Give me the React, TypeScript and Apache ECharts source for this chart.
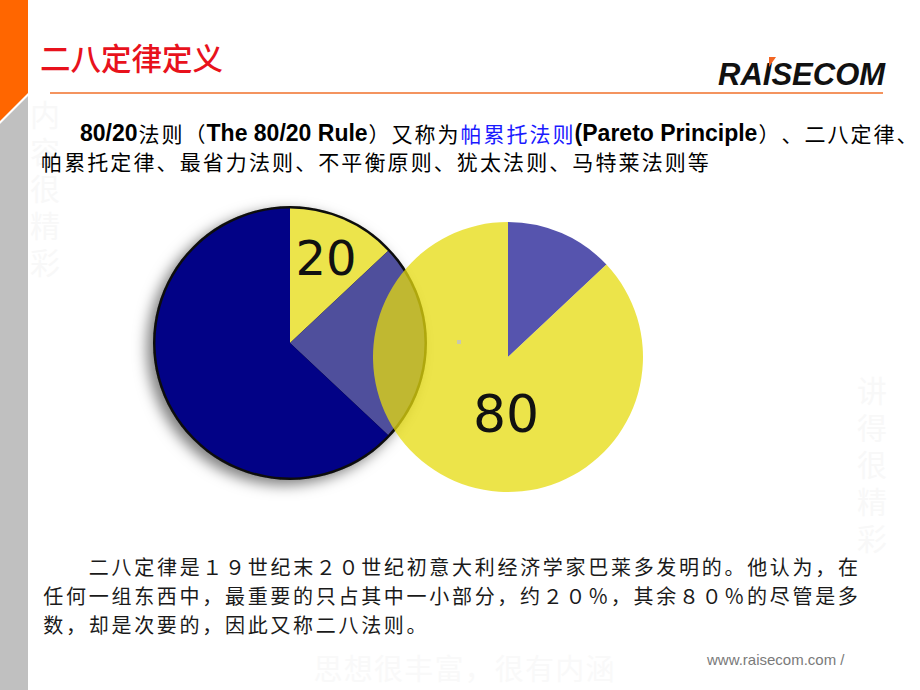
import React, { useEffect, useRef } from "react";
import * as echarts from "echarts";

// ---- data ----
const leftPieNames = ["关键少数", "过渡部分", "其余部分"];
const leftPieValues = [13, 24, 63];
const leftPieColors = ["#ece44b", "#4f4f9c", "#020286"];
const rightPieNames = ["少数", "多数"];
const rightPieValues = [13, 87];
const pieLabels = ["20", "80"];

const titleText = "二八定律定义";
const introLine1 = [
  { t: "80/20", k: "latin" },
  { t: "法则（", k: "cjk" },
  { t: "The 80/20 Rule", k: "latin" },
  { t: "）又称为", k: "cjk" },
  { t: "帕累托法则", k: "blue" },
  { t: "(Pareto Principle", k: "latin" },
  { t: "）、二八定律、", k: "cjk" },
];
const introLine2 = "帕累托定律、最省力法则、不平衡原则、犹太法则、马特莱法则等";
const bodyLines = [
  "二八定律是１９世纪末２０世纪初意大利经济学家巴莱多发明的。他认为，在",
  "任何一组东西中，最重要的只占其中一小部分，约２０％，其余８０％的尽管是多",
  "数，却是次要的，因此又称二八法则。",
];
const watermarkLeft = "内容很精彩";
const watermarkRight = "讲得很精彩";
const watermarkBottom = "思想很丰富，很有内涵";
const logoText = "RAISECOM";
const urlText = "www.raisecom.com /";

const CJK_FONT = "'Noto Sans CJK SC', 'Noto Sans', sans-serif";
const LATIN_FONT = "'Liberation Sans', Arial, sans-serif";

function measure(text: string, font: string): number {
  const c = document.createElement("canvas").getContext("2d")!;
  c.font = font;
  return c.measureText(text).width;
}

function charsAt(text: string, x0: number, y: number, pitch: number, size: number, fill: string, z = 10, weight = "normal") {
  const out: any[] = [];
  Array.from(text).forEach((ch, i) => {
    out.push({
      type: "text",
      z,
      silent: true,
      style: {
        text: ch,
        x: x0 + i * pitch + pitch / 2,
        y,
        fill,
        font: `${weight} ${size}px ${CJK_FONT}`,
        textAlign: "center",
        textVerticalAlign: "middle",
      },
    });
  });
  return out;
}

function verticalChars(text: string, x: number, y0: number, step: number, size: number, fill: string) {
  return Array.from(text).map((ch, i) => ({
    type: "text",
    z: 0,
    silent: true,
    style: {
      text: ch,
      x,
      y: y0 + i * step,
      fill,
      font: `normal ${size}px ${CJK_FONT}`,
      textAlign: "center",
      textVerticalAlign: "middle",
    },
  }));
}

export default function App() {
  const ref = useRef<HTMLDivElement>(null);
  useEffect(() => {
    if (!ref.current) return;
    const chart = echarts.init(ref.current, undefined, { renderer: "svg" });

    const graphics: any[] = [];
    // side bar
    graphics.push({
      type: "polygon", z: 0, silent: true,
      shape: { points: [[0, 0], [28, 0], [28, 93], [0, 121]] },
      style: { fill: "#ff6600" },
    });
    graphics.push({
      type: "polygon", z: 0, silent: true,
      shape: { points: [[0, 124], [28, 96], [28, 690], [0, 690]] },
      style: { fill: "#c0c0c0" },
    });
    // watermarks (very faint)
    graphics.push(...verticalChars(watermarkLeft, 45, 113, 37, 30, "#f8f8f8"));
    graphics.push(...verticalChars(watermarkRight, 872, 389, 37, 30, "#f8f8f8"));
    graphics.push(...charsAt(watermarkBottom, 313, 667, 30.2, 29, "#f9f9f9", 0));
    // title
    graphics.push({
      type: "text", z: 10, silent: true,
      style: {
        text: titleText, x: 40, y: 57,
        fill: "#e8121c",
        font: `500 30.5px ${CJK_FONT}`,
        textVerticalAlign: "middle",
        shadowColor: "rgba(0,0,0,0.4)", shadowBlur: 2, shadowOffsetX: 2, shadowOffsetY: 2,
      },
    });
    // orange rule
    graphics.push({
      type: "line", z: 5, silent: true,
      shape: { x1: 50, y1: 93, x2: 883, y2: 93 },
      style: { stroke: "#f0702a", lineWidth: 1.5 },
    });
    // logo
    graphics.push({
      type: "text", z: 10, silent: true,
      style: {
        text: logoText, x: 718, y: 74,
        fill: "#111",
        font: `italic 900 31px ${LATIN_FONT}`,
        textVerticalAlign: "middle",
      },
    });
    graphics.push({
      type: "polygon", z: 11, silent: true,
      shape: { points: [[769, 57], [776, 57], [769, 67]] },
      style: { fill: "#f26522" },
    });
    // intro line 1
    let x = 80;
    const y1 = 133;
    const latinFont = `bold 23px ${LATIN_FONT}`;
    introLine1.forEach((seg) => {
      if (seg.k === "latin") {
        graphics.push({
          type: "text", z: 10, silent: true,
          style: { text: seg.t, x, y: y1, fill: "#000", font: latinFont, textVerticalAlign: "middle" },
        });
        x += measure(seg.t, latinFont);
      } else {
        const fill = seg.k === "blue" ? "#1a1aff" : "#000";
        graphics.push(...charsAt(seg.t, x, y1, 23, 21, fill));
        x += Array.from(seg.t).length * 23;
      }
    });
    graphics.push(...charsAt(introLine2, 40, 161, 23.1, 21, "#000"));
    // body text
    graphics.push(...charsAt(bodyLines[0], 87.5, 566, 22.7, 20, "#1a1a1a"));
    graphics.push(...charsAt(bodyLines[1], 42, 595, 22.7, 20, "#1a1a1a"));
    graphics.push(...charsAt(bodyLines[2], 42, 624, 22.7, 20, "#1a1a1a"));
    // url
    graphics.push({
      type: "text", z: 10, silent: true,
      style: { text: urlText, x: 707, y: 659, fill: "#7a7a7a", font: `normal 15px ${LATIN_FONT}`, textVerticalAlign: "middle" },
    });
    // small dot
    graphics.push({
      type: "rect", z: 20, silent: true,
      shape: { x: 457, y: 340, width: 4, height: 4 },
      style: { fill: "#c8c8b0" },
    });
    // pie labels
    graphics.push({
      type: "text", z: 100, silent: true,
      style: {
        text: pieLabels[0], x: 326, y: 258, fill: "#111",
        font: `normal 48px 'DejaVu Sans', sans-serif`,
        textAlign: "center", textVerticalAlign: "middle",
      },
    });
    graphics.push({
      type: "text", z: 100, silent: true,
      style: {
        text: pieLabels[1], x: 506, y: 414, fill: "#111",
        font: `normal 52px 'DejaVu Sans', sans-serif`,
        textAlign: "center", textVerticalAlign: "middle",
        shadowColor: "rgba(0,0,0,0.4)", shadowBlur: 3, shadowOffsetX: 1, shadowOffsetY: 2,
      },
    });

    chart.setOption({
      animation: false,
      backgroundColor: "#ffffff",
      graphic: { elements: graphics },
      series: [
        {
          type: "pie",
          z: 1,
          silent: true,
          center: [290, 343],
          radius: 137,
          label: { show: false },
          labelLine: { show: false },
          itemStyle: { borderWidth: 0 },
          data: [
            {
              name: "border",
              value: 1,
              itemStyle: {
                color: "#0a0a0a",
                shadowBlur: 14,
                shadowColor: "rgba(0,0,0,0.5)",
                shadowOffsetX: -6,
                shadowOffsetY: 5,
              },
            },
          ],
        },
        {
          type: "pie",
          z: 2,
          silent: true,
          center: [290, 343],
          radius: 134.5,
          startAngle: 90,
          clockwise: true,
          label: { show: false },
          labelLine: { show: false },
          itemStyle: { borderWidth: 0 },
          data: leftPieValues.map((v, i) => ({
            name: leftPieNames[i],
            value: v,
            itemStyle: { color: leftPieColors[i] },
          })),
        },
        {
          type: "pie",
          z: 3,
          silent: true,
          center: [508, 357],
          radius: 135,
          startAngle: 90,
          clockwise: true,
          label: { show: false },
          labelLine: { show: false },
          itemStyle: { borderWidth: 0 },
          data: rightPieValues.map((v, i) => ({
            name: rightPieNames[i],
            value: v,
            itemStyle:
              i === 0
                ? { color: "#5654ae", opacity: 1 }
                : { color: "rgb(230,219,14)", opacity: 0.75 },
          })),
        },
      ],
    });
    return () => chart.dispose();
  }, []);

  return (
    <div
      ref={ref}
      style={{ position: "fixed", left: 0, top: 0, width: 920, height: 690, background: "#fff" }}
    />
  );
}
